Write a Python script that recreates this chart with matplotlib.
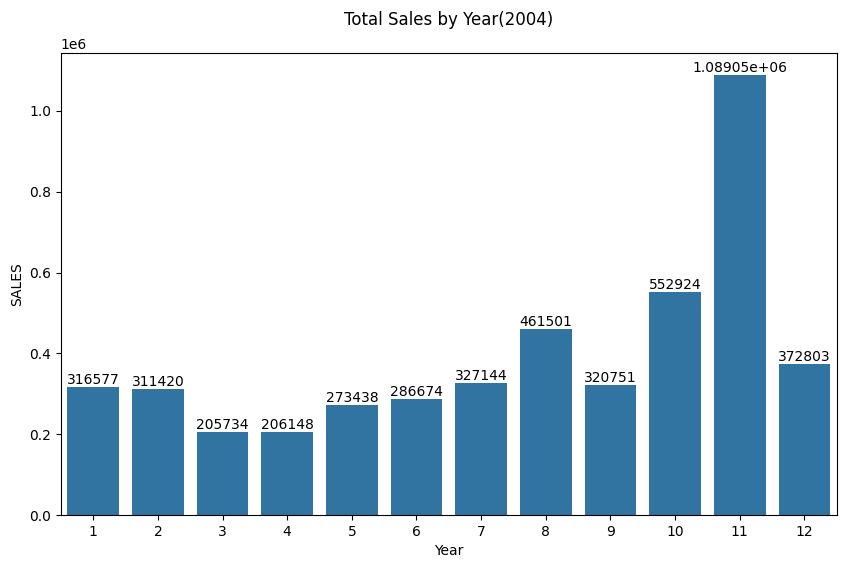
import matplotlib
matplotlib.use("Agg")
import matplotlib.pyplot as plt
import pandas as pd
import seaborn as sns

months = [1, 2, 3, 4, 5, 6, 7, 8, 9, 10, 11, 12]
sales = [316577, 311420, 205734, 206148, 273438, 286674,
         327144, 461501, 320751, 552924, 1089048, 372803]

df = pd.DataFrame({"Year": months, "SALES": sales})

fig, ax = plt.subplots(figsize=(8.46, 5.68), dpi=100)
fig.subplots_adjust(left=0.072, right=0.989, top=0.907, bottom=0.093)

sns.barplot(data=df, x="Year", y="SALES", ax=ax)
for c in ax.containers:
    ax.bar_label(c)

fig.suptitle("Total Sales by Year(2004)", x=0.530)
fig.savefig("out.png", dpi=100)
